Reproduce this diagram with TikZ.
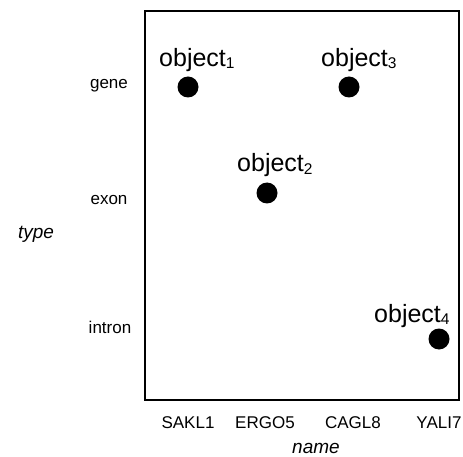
\documentclass[tikz,border=0pt]{standalone}
\usepackage{fontspec}
\setmainfont{Liberation Sans}
\newcommand{\objlabel}[1]{object\raisebox{-2pt}{\fontsize{15.5}{15.5}\selectfont #1}}
\begin{document}
\begin{tikzpicture}[x=1pt,y=-1pt,
  frame/.style={draw=black,line width=2pt},
  dot/.style={circle,fill=black,inner sep=0pt,minimum size=21pt},
  objtext/.style={anchor=base west,inner sep=0pt,font=\fontsize{25}{25}\selectfont},
  tick/.style={inner sep=0pt,font=\fontsize{17}{17}\selectfont},
  axis/.style={inner sep=0pt,font=\fontsize{19}{19}\selectfont\itshape}]
  \useasboundingbox (0,0) rectangle (463,457);
  % plotting frame
  \draw[frame] (145,11) rectangle (459,400);
  % objects
  \node[dot] (o1) at (188,87) {};
  \node[dot] (o2) at (267,193) {};
  \node[dot] (o3) at (349,87) {};
  \node[dot] (o4) at (439,339) {};
  \node[objtext] (l1) at (159,67) {\objlabel{1}};
  \node[objtext] (l2) at (237,172) {\objlabel{2}};
  \node[objtext] (l3) at (321,67) {\objlabel{3}};
  \node[objtext] (l4) at (374,322) {\objlabel{4}};
  % type axis
  \node[tick] (gene) at (109,86) {gene};
  \node[tick] (exon) at (109,200) {exon};
  \node[tick] (intron) at (110,327) {intron};
  \node[axis] (type) at (36,234) {type};
  % name axis
  \node[tick,anchor=base] (sakl) at (188,428) {SAKL1};
  \node[tick,anchor=base] (ergo) at (265,428) {ERGO5};
  \node[tick,anchor=base] (cagl) at (353,428) {CAGL8};
  \node[tick,anchor=base] (yali) at (439,428) {YALI7};
  \node[axis,anchor=base] (name) at (316,453) {name};
\end{tikzpicture}
\end{document}
